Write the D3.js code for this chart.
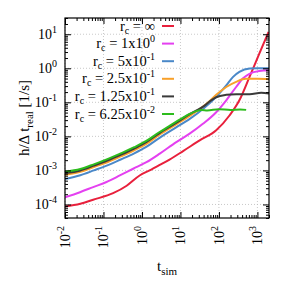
<!DOCTYPE html>
<html><head><meta charset="utf-8">
<script src="https://cdn.jsdelivr.net/npm/d3@7"></script>
<style>
body{margin:0;background:#fff;}
text{font-family:"Liberation Serif","DejaVu Serif",serif;fill:#000;}
</style></head>
<body><svg id="c" width="299" height="295"></svg>
<script>
// ---- data ----
const xTickExps = [-2, -1, 0, 1, 2, 3];
const yTickExps = [-4, -3, -2, -1, 0, 1];
const legendLabels = [
  ["∞", null], ["1x10", "0"], ["5x10", "-1"], ["2.5x10", "-1"], ["1.25x10", "-1"], ["6.25x10", "-2"]
];
const colors = ["#e8203c", "#e440f0", "#4a88c8", "#f8a02a", "#3a3a3a", "#2cbc1c"];

const seriesInf = [[0.01,8.7e-5],[0.025,1.05e-4],[0.054,1.38e-4],[0.178,2.14e-4],[0.4,3.55e-4],[0.87,7.1e-4],[1.58,1.0e-3],[2.9,1.45e-3],[5.2,2.09e-3],[11.7,3.7e-3],[31.6,7.6e-3],[85,0.0151],[190,0.0417],[340,0.115],[620,0.55],[1120,2.7],[1950,11.7]];
const series1e0 = [[0.01,1.62e-4],[0.0245,2.29e-4],[0.054,3.24e-4],[0.12,4.57e-4],[0.266,7.1e-4],[0.59,1.12e-3],[1.31,1.74e-3],[2.9,3.1e-3],[7.8,6.8e-3],[17.3,0.012],[38.3,0.0234],[85,0.0513],[155,0.115],[280,0.282],[416,0.5],[620,0.69],[1120,0.83],[2000,0.87]];
const series5e_1 = [[0.01,5.6e-4],[0.025,7.2e-4],[0.056,1.0e-3],[0.126,1.41e-3],[0.28,2.09e-3],[0.63,3.16e-3],[1.26,4.8e-3],[2.8,8.9e-3],[7.9,0.0186],[17.8,0.0331],[39.8,0.066],[85,0.145],[155,0.316],[230,0.55],[340,0.78],[630,0.98],[1000,1.0],[2000,1.0]];
const series25e_2 = [[0.01,7.4e-4],[0.025,9.1e-4],[0.056,1.26e-3],[0.126,1.74e-3],[0.28,2.57e-3],[0.63,3.9e-3],[1.26,5.9e-3],[2.8,0.011],[7.9,0.0229],[17.8,0.0407],[31.6,0.063],[50,0.095],[85,0.166],[155,0.282],[280,0.40],[500,0.49],[1000,0.49],[2000,0.48]];
const series125e_3 = [[0.01,8.3e-4],[0.025,1.0e-3],[0.056,1.38e-3],[0.126,1.95e-3],[0.28,2.88e-3],[0.63,4.4e-3],[1.26,6.6e-3],[2.8,0.0123],[7.9,0.0251],[17.8,0.0457],[39.8,0.076],[60,0.11],[85,0.141],[155,0.166],[280,0.174],[630,0.172],[1260,0.19],[2000,0.182]];
const series625e_4 = [[0.01,9.1e-4],[0.025,1.1e-3],[0.056,1.51e-3],[0.126,2.14e-3],[0.28,3.16e-3],[0.63,4.8e-3],[1.26,7.2e-3],[2.8,0.0132],[5.2,0.0204],[11.7,0.0355],[17.4,0.0457],[25.7,0.055],[35.5,0.060],[50,0.0575],[100,0.063],[200,0.060],[355,0.062],[510,0.060]];
const allSeries = [seriesInf, series1e0, series5e_1, series25e_2, series125e_3, series625e_4];

// ---- layout ----
const L = 65, T = 18, R = 269, B = 218;
const svg = d3.select("#c");
const x = d3.scaleLog().domain([0.01, 2000]).range([L, R]);
const y = d3.scaleLog().domain([4e-5, 30]).range([B, T]);

const majorX = xTickExps.map(e => Math.pow(10, e));
const majorY = yTickExps.map(e => Math.pow(10, e));
function minors(scale) {
  const [a, b] = scale.domain(); const out = [];
  for (let e = Math.floor(Math.log10(a)); e <= Math.ceil(Math.log10(b)); e++)
    for (let k = 2; k <= 9; k++) { const v = k * Math.pow(10, e); if (v >= a && v <= b) out.push(v); }
  return out;
}
const minorX = minors(x), minorY = minors(y);

// grid
const grid = svg.append("g").attr("stroke", "#bbb").attr("stroke-width", 0.8).attr("stroke-dasharray", "1,2");
majorX.forEach(v => grid.append("line").attr("x1", x(v)).attr("x2", x(v)).attr("y1", T).attr("y2", B));
majorY.forEach(v => grid.append("line").attr("y1", y(v)).attr("y2", y(v)).attr("x1", L).attr("x2", R));

// lines
svg.append("clipPath").attr("id", "pc").append("rect").attr("x", L).attr("y", T).attr("width", R - L).attr("height", B - T);
const line = d3.line().x(d => x(d[0])).y(d => y(d[1])).curve(d3.curveMonotoneX);
const lg = svg.append("g").attr("clip-path", "url(#pc)");
allSeries.forEach((s, i) => {
  lg.append("path").datum(s).attr("d", line).attr("fill", "none").attr("stroke", colors[i]).attr("stroke-width", 2).attr("stroke-linejoin", "round");
});

// axes (inward ticks, mirrored)
function addAxis(axisFn, scale, vals, size, tr) {
  svg.append("g").attr("transform", tr).call(axisFn(scale).tickValues(vals).tickSize(size).tickFormat(""))
    .call(g => g.select(".domain").remove())
    .selectAll("line").attr("stroke", "#000").attr("stroke-width", 1);
}
addAxis(d3.axisBottom, x, majorX, -6, `translate(0,${B})`);
addAxis(d3.axisBottom, x, minorX, -3, `translate(0,${B})`);
addAxis(d3.axisTop, x, majorX, -6, `translate(0,${T})`);
addAxis(d3.axisTop, x, minorX, -3, `translate(0,${T})`);
addAxis(d3.axisLeft, y, majorY, -6, `translate(${L},0)`);
addAxis(d3.axisLeft, y, minorY, -3, `translate(${L},0)`);
addAxis(d3.axisRight, y, majorY, -6, `translate(${R},0)`);
addAxis(d3.axisRight, y, minorY, -3, `translate(${R},0)`);
svg.append("rect").attr("x", L).attr("y", T).attr("width", R - L).attr("height", B - T)
  .attr("fill", "none").attr("stroke", "#000").attr("stroke-width", 1.2);

// tick labels
xTickExps.forEach(e => {
  const t = svg.append("text").attr("transform", `translate(${x(Math.pow(10, e)) + 5},${B + 8}) rotate(-90)`)
    .attr("text-anchor", "end").attr("font-size", 14);
  t.append("tspan").text("10");
  t.append("tspan").attr("font-size", 10).attr("dy", -6).text(String(e));
});
yTickExps.forEach(e => {
  const t = svg.append("text").attr("x", L - 8).attr("y", y(Math.pow(10, e)) + 4.5)
    .attr("text-anchor", "end").attr("font-size", 14);
  t.append("tspan").text("10");
  t.append("tspan").attr("font-size", 10).attr("dy", -6).text(String(e));
});

// axis titles
const xt = svg.append("text").attr("x", (L + R) / 2).attr("y", 271).attr("text-anchor", "middle").attr("font-size", 15);
xt.append("tspan").text("t");
xt.append("tspan").attr("font-size", 11).attr("dy", 4).text("sim");

const yt = svg.append("text").attr("transform", `translate(29,${(T + B) / 2}) rotate(-90)`).attr("text-anchor", "middle").attr("font-size", 15);
yt.append("tspan").text("h/Δ t");
yt.append("tspan").attr("font-size", 11).attr("dy", 4).text("real");
yt.append("tspan").attr("dy", -4).text(" [1/s]");

// legend
legendLabels.forEach((lab, i) => {
  const ly = 26 + i * 17.6;
  const t = svg.append("text").attr("x", 155).attr("y", ly + 4.5).attr("text-anchor", "end").attr("font-size", 14.5);
  t.append("tspan").text("r");
  t.append("tspan").attr("font-size", 10).attr("dy", 3).text("c");
  t.append("tspan").attr("dy", -3).text(" = " + lab[0]);
  if (lab[1]) t.append("tspan").attr("font-size", 10).attr("dy", -6).text(lab[1]);
  svg.append("line").attr("x1", 162).attr("x2", 174).attr("y1", ly).attr("y2", ly)
    .attr("stroke", colors[i]).attr("stroke-width", 2);
});
</script></body></html>
